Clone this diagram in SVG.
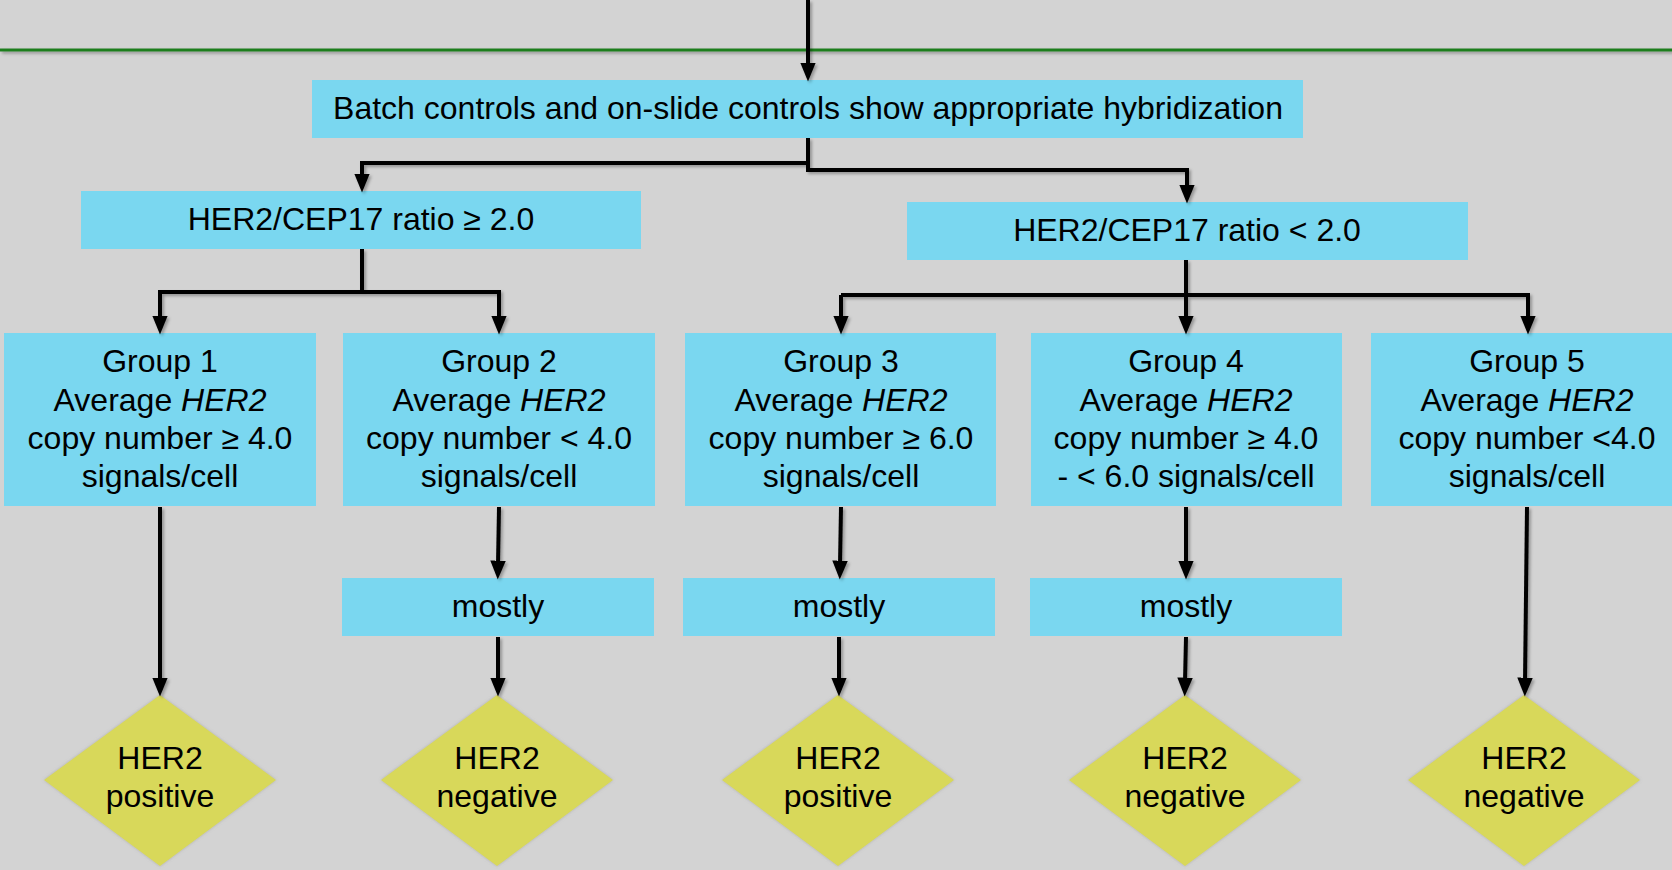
<svg xmlns="http://www.w3.org/2000/svg" width="1672" height="870" viewBox="0 0 1672 870">
<defs>
<style>
.box{fill:#7ad7f0;}
.dia{fill:#d8d85a;}
.t{font-family:"Liberation Sans",Arial,sans-serif;font-size:32px;fill:#000;text-anchor:middle;}
.c{fill:none;stroke:#000;stroke-width:4;}
</style>
<marker id="ah" markerUnits="userSpaceOnUse" markerWidth="20" markerHeight="16" viewBox="0 0 18 14" refX="4" refY="7" orient="auto">
<path d="M0,0 L17,7 L0,14 z" fill="#000"/>
</marker>
<filter id="sh" filterUnits="userSpaceOnUse" x="0" y="0" width="1672" height="870">
<feDropShadow dx="2" dy="2" stdDeviation="1.5" flood-color="#000" flood-opacity="0.3"/>
</filter>
<filter id="glow" x="-10%" y="-10%" width="120%" height="120%">
<feDropShadow dx="0" dy="0" stdDeviation="1.5" flood-color="#888" flood-opacity="0.5"/>
</filter>
</defs>
<rect x="0" y="0" width="1672" height="870" fill="#d3d3d3"/>
<rect x="0" y="48.5" width="1672" height="3" fill="#1e7e1e" filter="url(#sh)"/>

<g id="batch"><rect class="box" x="312" y="80" width="991" height="58"/><text class="t" x="808" y="119">Batch controls and on-slide controls show appropriate hybridization</text></g>
<g id="ratio-high"><rect class="box" x="81" y="191" width="560" height="58"/><text class="t" x="361" y="230">HER2/CEP17 ratio ≥ 2.0</text></g>
<g id="ratio-low"><rect class="box" x="907" y="202" width="561" height="58"/><text class="t" x="1187" y="241">HER2/CEP17 ratio &lt; 2.0</text></g>

<g id="group1"><rect class="box" x="4" y="333" width="312" height="173"/>
<text class="t" x="160" y="372">Group 1</text><text class="t" x="160" y="411">Average <tspan font-style="italic">HER2</tspan></text><text class="t" x="160" y="449">copy number ≥ 4.0</text><text class="t" x="160" y="487">signals/cell</text></g>
<g id="group2"><rect class="box" x="343" y="333" width="312" height="173"/>
<text class="t" x="499" y="372">Group 2</text><text class="t" x="499" y="411">Average <tspan font-style="italic">HER2</tspan></text><text class="t" x="499" y="449">copy number &lt; 4.0</text><text class="t" x="499" y="487">signals/cell</text></g>
<g id="group3"><rect class="box" x="685" y="333" width="311" height="173"/>
<text class="t" x="841" y="372">Group 3</text><text class="t" x="841" y="411">Average <tspan font-style="italic">HER2</tspan></text><text class="t" x="841" y="449">copy number ≥ 6.0</text><text class="t" x="841" y="487">signals/cell</text></g>
<g id="group4"><rect class="box" x="1031" y="333" width="311" height="173"/>
<text class="t" x="1186" y="372">Group 4</text><text class="t" x="1186" y="411">Average <tspan font-style="italic">HER2</tspan></text><text class="t" x="1186" y="449">copy number ≥ 4.0</text><text class="t" x="1186" y="487">- &lt; 6.0 signals/cell</text></g>
<g id="group5"><rect class="box" x="1371" y="333" width="320" height="173"/>
<text class="t" x="1527" y="372">Group 5</text><text class="t" x="1527" y="411">Average <tspan font-style="italic">HER2</tspan></text><text class="t" x="1527" y="449">copy number &lt;4.0</text><text class="t" x="1527" y="487">signals/cell</text></g>

<g id="mostly2"><rect class="box" x="342" y="578" width="312" height="58"/><text class="t" x="498" y="617">mostly</text></g>
<g id="mostly3"><rect class="box" x="683" y="578" width="312" height="58"/><text class="t" x="839" y="617">mostly</text></g>
<g id="mostly4"><rect class="box" x="1030" y="578" width="312" height="58"/><text class="t" x="1186" y="617">mostly</text></g>

<g id="result1"><polygon class="dia" filter="url(#glow)" points="160,695 276,780 160,866 44,780"/><text class="t" x="160" y="769">HER2</text><text class="t" x="160" y="807">positive</text></g>
<g id="result2"><polygon class="dia" filter="url(#glow)" points="497,695 613,780 497,866 381,780"/><text class="t" x="497" y="769">HER2</text><text class="t" x="497" y="807">negative</text></g>
<g id="result3"><polygon class="dia" filter="url(#glow)" points="838,695 954,780 838,866 722,780"/><text class="t" x="838" y="769">HER2</text><text class="t" x="838" y="807">positive</text></g>
<g id="result4"><polygon class="dia" filter="url(#glow)" points="1185,695 1301,780 1185,866 1069,780"/><text class="t" x="1185" y="769">HER2</text><text class="t" x="1185" y="807">negative</text></g>
<g id="result5"><polygon class="dia" filter="url(#glow)" points="1524,695 1640,780 1524,866 1408,780"/><text class="t" x="1524" y="769">HER2</text><text class="t" x="1524" y="807">negative</text></g>

<g id="connectors" filter="url(#sh)">
<path class="c" d="M808,0 V67" marker-end="url(#ah)"/>
<path class="c" d="M808,138 V170 H1187 V189" marker-end="url(#ah)"/>
<path class="c" d="M808,163 H362 V178" marker-end="url(#ah)"/>
<path class="c" d="M362,249 V292 H160 V320" marker-end="url(#ah)"/>
<path class="c" d="M362,292 H499 V320" marker-end="url(#ah)"/>
<path class="c" d="M1186,260 V320" marker-end="url(#ah)"/>
<path class="c" d="M841,295 H1528 V320" marker-end="url(#ah)"/>
<path class="c" d="M841,295 V320" marker-end="url(#ah)"/>
<path class="c" d="M160,507 V682" marker-end="url(#ah)"/>
<path class="c" d="M499,507 L498,565" marker-end="url(#ah)"/>
<path class="c" d="M498,637 V682" marker-end="url(#ah)"/>
<path class="c" d="M841,507 L840,565" marker-end="url(#ah)"/>
<path class="c" d="M839,637 V682" marker-end="url(#ah)"/>
<path class="c" d="M1186,507 V565" marker-end="url(#ah)"/>
<path class="c" d="M1186,637 L1185,682" marker-end="url(#ah)"/>
<path class="c" d="M1527,507 L1525,682" marker-end="url(#ah)"/>
</g>
</svg>
